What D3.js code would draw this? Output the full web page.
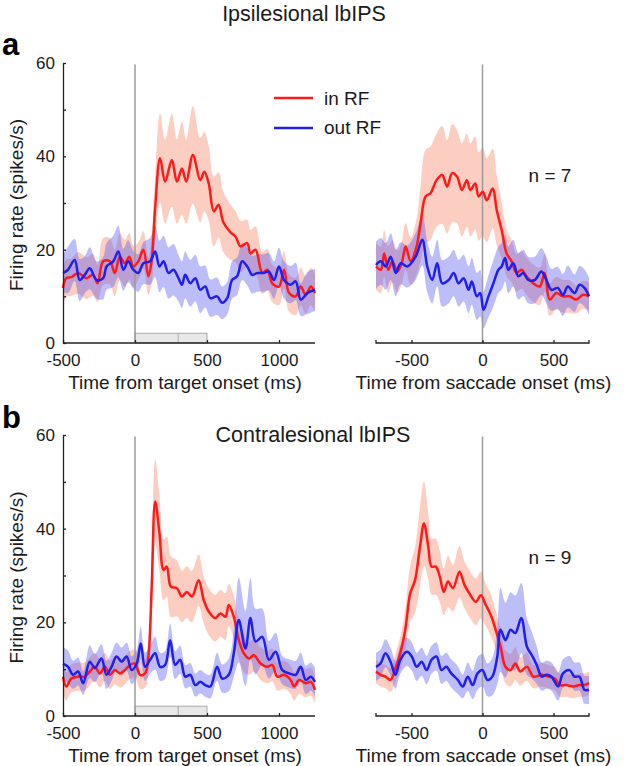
<!DOCTYPE html>
<html><head><meta charset="utf-8">
<script src="https://cdn.jsdelivr.net/npm/d3@7"></script>
<style>
body{margin:0;background:#fff;}
svg{display:block;font-family:"Liberation Sans",Arial,sans-serif;}
</style></head>
<body>
<script>
// ---- data: [time (ms), mean firing rate (spikes/s), shading half-width] ----
const ipsiTargetIn = [[-500,11.8,4],[-477,13.9,4],[-442,14.1,4],[-395,15,4.5],[-337,13.9,4.5],[-291,14.6,4.5],[-260,12.8,4],[-221,17.5,5],[-174,17.5,5],[-140,15,5],[-105,18.5,5],[-70,17.1,5],[-40,18.5,5],[-12,16.4,4.5],[23,17.5,4],[58,20,4],[93,14.3,4],[116,17.8,5],[140,29,7],[174,39.6,9.5],[209,34.6,9],[256,39.2,10],[291,34.6,9],[326,37.4,10],[356,34.6,9],[402,40.3,10.5],[453,34.9,9],[481,36.7,8.5],[512,34.2,8],[547,28.2,7.5],[581,29.6,7],[612,26,6.5],[658,23.9,6],[698,22.8,5.5],[733,20.7,5.5],[779,21.4,5],[802,19.2,5],[837,20,5],[884,15,4.5],[919,15.7,4.5],[953,12.8,4],[1000,12.1,4],[1035,15.7,4],[1070,10.7,4],[1116,10,4],[1151,12.1,4],[1186,10.3,4],[1221,12.1,4],[1250,10.7,4]];
const ipsiTargetOut = [[-500,15,4],[-465,15.7,5],[-419,17.8,4.5],[-384,13.5,4.5],[-349,14.6,4],[-314,16,4.5],[-267,13.5,4],[-221,13.9,4.5],[-198,16.4,5],[-151,17.5,5.5],[-116,19.6,5.5],[-81,15.7,4.5],[-47,17.5,4.5],[-12,15.7,4],[23,15,4],[58,17.1,4.5],[105,17.5,5],[140,19.6,5.5],[170,16.4,5.5],[198,17.5,5.5],[233,15,5.5],[267,15.7,5.5],[302,13.9,5],[326,12.5,5],[349,14.6,5],[384,12.8,5],[419,13.9,5],[453,11.4,5],[488,12.1,4.5],[523,9.6,4],[570,10,4],[605,8.6,3.5],[640,9.6,3.5],[674,13.5,4],[709,14.3,4],[744,17.5,4],[779,16.4,4],[814,14.6,4],[849,15,4],[895,15,4],[930,15.3,4],[965,13.5,4],[1000,16.4,4],[1035,13.5,4],[1081,12.5,4],[1116,13.2,4],[1151,9.3,3.5],[1198,10.7,4.5],[1250,11.4,4.5]];
const ipsiSaccadeIn = [[-750,16.4,5],[-716,15.7,5],[-692,19.2,5],[-664,15.7,5],[-634,17.5,4.5],[-599,15.3,4.5],[-569,17.1,4.5],[-541,20.7,5],[-506,17.5,5],[-464,20.7,6],[-436,25.7,8],[-401,31.4,10],[-366,32.1,10],[-324,34.9,10],[-284,36,10.5],[-249,33.5,10],[-214,36.4,10.5],[-179,35.6,10],[-145,32.8,10],[-110,34.9,10],[-86,32.8,10],[-51,34.2,10],[-28,31.4,9.5],[2,32.4,9.5],[30,30.6,9],[72,33.1,8.5],[100,28.5,7.5],[135,24.2,6],[170,19.2,5],[205,17.5,4.5],[240,15,4],[275,15.7,4],[310,14.3,4],[357,12.8,4],[403,12.1,4],[438,15,4],[473,9.3,3.5],[520,10.7,3.5],[566,10,3.5],[613,10,3.5],[660,9.3,3],[706,10.3,3],[750,10,3]];
const ipsiSaccadeOut = [[-750,16.7,5],[-716,17.5,5],[-681,16.4,5],[-646,18.5,5],[-611,15,5],[-576,17.1,4.5],[-529,16.4,4.5],[-471,18.5,5],[-424,22.1,5.5],[-389,16.4,5.5],[-354,13.5,5],[-319,17.1,5],[-284,12.8,5],[-238,13.5,5],[-203,15,5],[-168,12.8,5],[-133,13.9,5],[-98,11.4,5],[-75,13.2,5],[-40,10,5],[-16,10.7,5],[7,7.1,4],[42,10,4.5],[77,12.8,5],[112,15.7,5],[135,16.4,5],[159,18.2,5],[182,15.7,5],[217,17.1,5],[252,14.3,5],[287,15,5],[322,13.5,5],[368,13.5,5],[415,15.3,5],[450,13.5,5],[485,11.4,4.5],[531,11.8,4.5],[566,10.3,4.5],[601,12.1,4.5],[648,10.7,4],[683,12.5,4],[718,11.8,4],[750,10,4]];
const contraTargetIn = [[-500,8.4,3],[-477,6.3,3],[-442,8,3],[-395,8.4,3],[-349,8.4,3],[-314,9.5,3],[-279,10.5,3],[-244,9.1,3],[-209,10.5,3],[-174,8.8,3],[-140,9.8,3],[-105,9.1,3],[-70,9.8,3],[-35,10.9,3],[0,11.2,3],[35,8.8,3],[70,9.1,3],[93,12.7,3.5],[116,27.6,6],[140,45.8,9],[170,39,8],[198,31.2,6.5],[221,31.9,6.5],[249,27.6,6.5],[291,27.3,6],[326,25.5,5.5],[360,26.5,5.5],[395,25.5,5.5],[442,29,5.5],[477,24.8,5],[512,22.3,5],[558,20.9,5],[593,21.9,5],[628,21.2,5],[651,23.7,4.5],[686,21.2,4.5],[721,16.2,4],[756,13.4,4],[791,12.3,3.5],[826,13,3.5],[872,11.2,3.5],[919,10.5,3.5],[953,10.9,3.5],[988,8.4,3],[1035,8.8,3],[1081,7.7,3],[1105,6.3,3],[1140,7.7,3],[1186,7,3],[1221,7.3,3],[1250,5.6,3]];
const contraTargetOut = [[-500,11.2,3.5],[-465,10.5,3.5],[-430,8.8,3],[-395,9.5,3],[-360,7,2.5],[-314,11.6,3.5],[-279,10.2,3],[-233,12.3,3],[-198,8.8,3],[-163,10.5,3],[-128,12.7,3],[-93,11.6,3],[-58,12.7,3],[-23,9.8,3],[12,11.2,3],[40,15.5,3.5],[70,10.5,3],[105,12,3],[140,13.4,3.5],[174,10.5,3],[209,10.9,3],[244,16.2,3.5],[279,10.9,3],[314,12,3],[349,8.4,2.5],[384,8.8,2.5],[419,6.6,2.5],[453,7.3,2.5],[488,6.6,2.5],[523,6.3,2.5],[570,10.5,3],[605,8,3],[651,8.8,3.5],[686,13.4,5],[721,20.5,9],[767,14.4,8],[802,20.9,8.5],[837,15.9,7],[884,16.9,6],[930,12,4],[977,13.7,4],[1023,9.8,3],[1070,9.1,3],[1116,8.8,3],[1151,10.5,3],[1186,7.7,3],[1221,8.4,3],[1250,7.3,3]];
const contraSaccadeIn = [[-750,9.5,2.5],[-718,8.8,2.5],[-683,8.4,2.5],[-648,7.7,2.5],[-613,10.2,3],[-579,13.4,3.5],[-544,18.4,4.5],[-509,26.2,6],[-475,29,7],[-440,36.2,8.5],[-412,41.1,9],[-382,36.2,7],[-359,31.9,6],[-329,31.9,6],[-301,29.8,5.5],[-273,26.5,5],[-243,28.7,5.5],[-208,27.3,5],[-162,30.8,5.5],[-127,28,5],[-93,26.2,5],[-46,24.4,5],[-12,25.8,5],[23,23.7,4.5],[58,21.6,4.5],[93,18.4,4],[127,14.8,4],[162,10.5,3.5],[197,9.8,3.5],[231,11.2,3.5],[266,9.5,3],[313,10.5,3],[359,8.4,2.5],[417,8.8,2.5],[463,8.4,2.5],[509,8,2.5],[544,6.6,2.5],[590,6.6,2.5],[637,6.3,2.5],[683,6.6,2.5],[718,6.6,2.5],[750,7,2.5]];
const contraSaccadeOut = [[-750,10.5,3],[-718,11.2,3],[-683,13.4,3],[-648,11.6,3],[-613,8.8,3],[-579,12,3],[-532,13.7,3],[-498,12.7,3],[-463,10.5,3],[-428,11.6,3],[-394,9.8,3],[-359,12,3],[-324,12.7,3],[-289,9.8,3],[-255,10.5,3],[-220,9.1,3],[-174,7.7,3],[-139,6.3,2.5],[-104,8.4,3],[-69,6.6,3],[-35,9.1,3.5],[0,9.8,3.5],[35,7.7,3.5],[69,8.4,4],[104,12.7,6],[127,18.4,9],[162,16.2,8],[197,18.4,8],[231,17.7,8],[273,20.9,7.5],[313,14.8,6],[347,13,5],[382,10.9,4],[417,8.4,3],[451,8.8,3],[486,8.4,3],[532,6.3,3],[567,9.1,3],[613,9.8,3],[648,8.4,3],[683,8.4,3],[718,5.6,3],[750,5.6,3]];

const yTicks = [0,10,20,30,40,50,60];
const yLabels = [0,20,40,60];
const targetTicks = [-500,0,500,1000];
const saccadeTicks = [-500,0,500];
const targetDomain = [-500,1250];
const saccadeDomain = [-750,750];
const targetWindow = [0,300,500];
const seriesNames = ["in RF","out RF"];
const titles = ["Ipsilesional lbIPS","Contralesional lbIPS"];
const panelLetters = ["a","b"];
const nCounts = ["n = 7","n = 9"];
const xLabels = ["Time from target onset (ms)","Time from saccade onset (ms)"];
const yLabel = "Firing rate (spikes/s)";

// ---- drawing ----
const W = 627, H = 766;
const svg = d3.select("body").append("svg").attr("width",W).attr("height",H);
const RED = "#ff1a1a", BLUE = "#1f1fee";
const RED_FILL = "rgb(248,130,100)", BLUE_FILL = "rgb(90,90,240)";
const TXT = "#1a1a1a";
const font = '"Liberation Sans",Arial,sans-serif';

const rows = [
  {y0:343, y1:63, tIn:ipsiTargetIn, tOut:ipsiTargetOut, sIn:ipsiSaccadeIn, sOut:ipsiSaccadeOut, titleX:304, titleY:21, letterY:55, nY:182},
  {y0:716, y1:435, tIn:contraTargetIn, tOut:contraTargetOut, sIn:contraSaccadeIn, sOut:contraSaccadeOut, titleX:313, titleY:442, letterY:428, nY:564}
];

rows.forEach((row, ri) => {
  const y = d3.scaleLinear().domain([0,60]).range([row.y0,row.y1]);
  const panels = [
    {x:d3.scaleLinear().domain(targetDomain).range([63,315]), ticks:targetTicks, inS:row.tIn, outS:row.tOut, left:true},
    {x:d3.scaleLinear().domain(saccadeDomain).range([376,589]), ticks:saccadeTicks, inS:row.sIn, outS:row.sOut, left:false}
  ];
  panels.forEach((p, pi) => {
    const g = svg.append("g");
    const x = p.x;
    const curve = d3.curveCatmullRom.alpha(0.5);
    const area = d3.area().x(d=>x(d[0])).y0(d=>y(Math.max(0,d[1]-d[2]))).y1(d=>y(d[1]+d[2])).curve(curve);
    const line = d3.line().x(d=>x(d[0])).y(d=>y(d[1])).curve(curve);

    // target window box
    if (p.left) {
      const bh = y(0) - y(2.1);
      g.append("rect").attr("x",x(targetWindow[0])).attr("y",y(2.1)).attr("width",x(targetWindow[2])-x(targetWindow[0])).attr("height",bh)
        .attr("fill","#e8e8e8").attr("stroke","#9a9a9a").attr("stroke-width",0.8);
      g.append("line").attr("x1",x(targetWindow[1])).attr("x2",x(targetWindow[1])).attr("y1",y(2.1)).attr("y2",y(0))
        .attr("stroke","#9a9a9a").attr("stroke-width",0.8);
    }
    // bands
    g.append("path").datum(p.inS).attr("d",area).attr("fill",RED_FILL).attr("fill-opacity",0.4);
    g.append("path").datum(p.outS).attr("d",area).attr("fill",BLUE_FILL).attr("fill-opacity",0.4);
    // zero line
    g.append("line").attr("x1",x(0)).attr("x2",x(0)).attr("y1",y(59.7)).attr("y2",y(0))
      .attr("stroke","#9a9a9a").attr("stroke-width",1.5);
    // lines
    g.append("path").datum(p.inS).attr("d",line).attr("fill","none").attr("stroke",RED).attr("stroke-width",2.5).attr("stroke-linejoin","round");
    g.append("path").datum(p.outS).attr("d",line).attr("fill","none").attr("stroke",BLUE).attr("stroke-width",2.5).attr("stroke-linejoin","round");

    // x axis
    const xa = g.append("g").attr("transform",`translate(0,${row.y0})`)
      .call(d3.axisBottom(x).tickValues(p.ticks).tickSizeInner(-3).tickSizeOuter(0).tickPadding(11).tickFormat(d=>String(d)));
    xa.selectAll("text").attr("font-size",17).attr("font-family",font).attr("fill",TXT);
    xa.selectAll("path,line").attr("stroke","#222").attr("stroke-width",1.3);
    xa.select(".domain").attr("d", p.left ? `M${x.range()[0]},0H${x.range()[1]}` : `M${x.range()[0]},-3V0H${x.range()[1]}V-3`);

    // x label
    g.append("text").attr("x",(x.range()[0]+x.range()[1])/2 + (p.left?-4:1)).attr("y",row.y0+45.5)
      .attr("text-anchor","middle").attr("font-size",19).attr("fill",TXT).text(xLabels[pi]);

    if (p.left) {
      const ya = g.append("g").attr("transform",`translate(${x.range()[0]},0)`)
        .call(d3.axisLeft(y).tickValues(yTicks).tickSizeInner(-3).tickSizeOuter(0).tickPadding(8)
          .tickFormat(d=>yLabels.includes(d)?String(d):""));
      ya.selectAll("text").attr("font-size",17).attr("font-family",font).attr("fill",TXT);
      ya.selectAll("path,line").attr("stroke","#222").attr("stroke-width",1.3);
      g.append("text").attr("transform",`translate(23,${(row.y0+row.y1)/2+2}) rotate(-90)`)
        .attr("text-anchor","middle").attr("font-size",19).attr("fill",TXT).text(yLabel);
    } else {
      g.append("text").attr("x",550).attr("y",row.nY).attr("text-anchor","middle")
        .attr("font-size",19).attr("fill",TXT).text(nCounts[ri]);
    }
  });

  svg.append("text").attr("x",row.titleX).attr("y",row.titleY).attr("text-anchor","middle")
    .attr("font-size",21.5).attr("fill",TXT).text(titles[ri]);
  svg.append("text").attr("x",2).attr("y",row.letterY).attr("font-size",31).attr("font-weight","bold")
    .attr("fill","#000").text(panelLetters[ri]);
});

// legend
const lg = svg.append("g");
[RED, BLUE].forEach((c,i)=>{
  lg.append("line").attr("x1",274).attr("x2",313).attr("y1",98+i*30).attr("y2",98+i*30).attr("stroke",c).attr("stroke-width",2.5);
  lg.append("text").attr("x",324).attr("y",105+i*29).attr("font-size",19)
    .attr("fill",TXT).text(seriesNames[i]);
});
</script>
</body></html>
